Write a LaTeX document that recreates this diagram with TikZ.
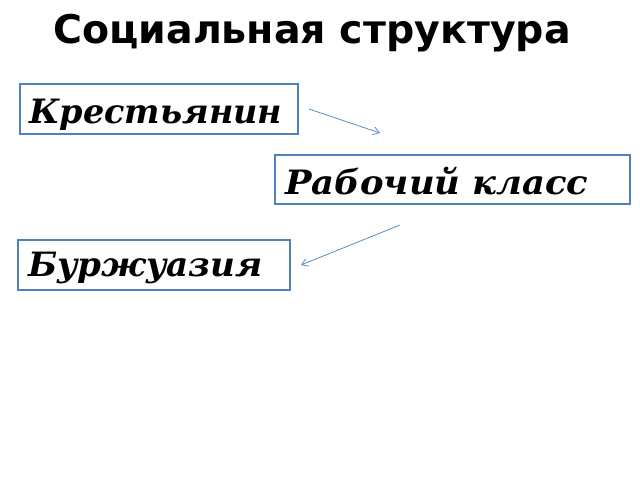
\documentclass[tikz,border=0pt]{standalone}
\usepackage{fontspec}
\setmainfont{DejaVu Serif}
\newfontfamily\titlefont{DejaVu Sans}
\usetikzlibrary{arrows.meta}
\definecolor{boxblue}{RGB}{79,129,189}
\definecolor{arrblue}{RGB}{90,140,200}
\tikzset{
  framebox/.style={draw=boxblue, line width=1.5pt},
  lbl/.style={anchor=base west, inner sep=0pt, font=\fontsize{33.5}{38}\selectfont\bfseries\itshape},
  link/.style={draw=arrblue, line width=0.8pt, -{Straight Barb[length=6pt,width=8pt]}}
}
\begin{document}
\begin{tikzpicture}[x=1pt,y=-1pt]
\useasboundingbox (0,0) rectangle (640,480);
\node[anchor=base, inner sep=0pt, font=\titlefont\fontsize{39.5}{44}\selectfont\bfseries] (title) at (312,43) {Социальная структура};
\draw[framebox] (20,84) rectangle (298,134);
\draw[framebox] (275,155) rectangle (630,204);
\draw[framebox] (18,240) rectangle (290,290);
\node[lbl] (k) at (29,123) {Крестьянин};
\node[lbl, xscale=1.055] (r) at (285,194) {Рабочий класс};
\node[lbl, xscale=1.02] (b) at (28,276) {Буржуазия};
\coordinate (a1s) at (309,109);
\coordinate (a1e) at (380,133);
\coordinate (a2s) at (400,225);
\coordinate (a2e) at (301,265);
\draw[link] (a1s) -- (a1e);
\draw[link] (a2s) -- (a2e);
\end{tikzpicture}
\end{document}
